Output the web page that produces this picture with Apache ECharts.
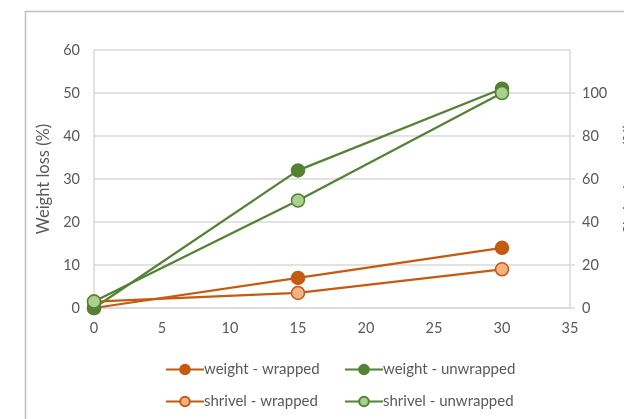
<!DOCTYPE html>
<html><head><meta charset="utf-8">
<script src="https://cdn.jsdelivr.net/npm/echarts@6/dist/echarts.min.js"></script>
<style>html,body{margin:0;padding:0;background:#fff}#c{width:624px;height:419px}</style>
</head><body><div id="c"></div>
<script>
const days = [0, 15, 30];
const weightWrapped = [0, 7, 14];
const weightUnwrapped = [0, 32, 51];
const shrivelWrapped = [3, 7, 18];
const shrivelUnwrapped = [3, 50, 100];
const seriesNames = ['weight - wrapped', 'weight - unwrapped', 'shrivel - wrapped', 'shrivel - unwrapped'];

const orange = '#C55A11', green = '#548235';
const font = 'Lato, "Open Sans", sans-serif';
const txt = '#595959';

function pts(ys){ return days.map((d,i)=>[d, ys[i]]); }
function ser(name, ys, yIdx, line, fill){
  return {name, type:'line', yAxisIndex:yIdx, data:pts(ys), symbol:'circle', symbolSize:13,
    lineStyle:{color:line, width:2.25}, itemStyle:{color:fill, borderColor:line, borderWidth:1.5},
    emphasis:{disabled:true}, z: 3};
}
const chart = echarts.init(document.getElementById('c'));
chart.setOption({
  animation:false,
  textStyle:{fontFamily:font},
  graphic:[{type:'polyline', shape:{points:[[25.5,430],[25.5,11.5],[640,11.5]]}, style:{stroke:'#BFBFBF', lineWidth:1.5, fill:null}, silent:true}],
  grid:{left:94, right:54, top:50, bottom:111, containLabel:false, outerBoundsMode:'none'},
  legend:[
    {orient:'vertical', left:160, top:357, itemGap:17, itemWidth:38, itemHeight:12, data:[seriesNames[0], seriesNames[2]],
      textStyle:{color:txt, fontSize:15, fontFamily:font, padding:[0,0,0,-5]}},
    {orient:'vertical', left:339, top:357, itemGap:17, itemWidth:38, itemHeight:12, data:[seriesNames[1], seriesNames[3]],
      textStyle:{color:txt, fontSize:15, fontFamily:font, padding:[0,0,0,-5]}}
  ],
  xAxis:{type:'value', min:0, max:35, interval:5,
    axisLine:{show:true, lineStyle:{color:'#D9D9D9', width:1.5}}, axisTick:{show:false},
    splitLine:{show:false}, axisLabel:{color:txt, fontSize:14.5, margin:13, fontFamily:font}},
  yAxis:[
    {type:'value', min:0, max:60, interval:10, position:'left',
      name:'Weight loss (%)', nameLocation:'middle', nameGap:34, nameTextStyle:{color:txt, fontSize:16.5, fontFamily:font},
      axisLine:{show:true, lineStyle:{color:'#D9D9D9', width:1.5}}, axisTick:{show:false},
      splitLine:{lineStyle:{color:'#D9D9D9', width:1.5}}, axisLabel:{color:txt, fontSize:14.5, margin:14, fontFamily:font}},
    {type:'value', min:0, max:120, interval:20, position:'right',
      name:'Shrivel area (%)', nameLocation:'middle', nameGap:52, nameRotate:90, nameTextStyle:{color:txt, fontSize:16.5, fontFamily:font},
      axisLine:{show:true, lineStyle:{color:'#D9D9D9', width:1.5}}, axisTick:{show:true, length:5, lineStyle:{color:'#D9D9D9', width:1.5}},
      splitLine:{show:false}, axisLabel:{color:txt, fontSize:14.5, margin:12, fontFamily:font, showMaxLabel:false}}
  ],
  series:[
    ser(seriesNames[0], weightWrapped, 0, orange, orange),
    ser(seriesNames[1], weightUnwrapped, 0, green, green),
    ser(seriesNames[2], shrivelWrapped, 1, orange, '#F4B183'),
    ser(seriesNames[3], shrivelUnwrapped, 1, green, '#A9D18E')
  ]
});
</script></body></html>
